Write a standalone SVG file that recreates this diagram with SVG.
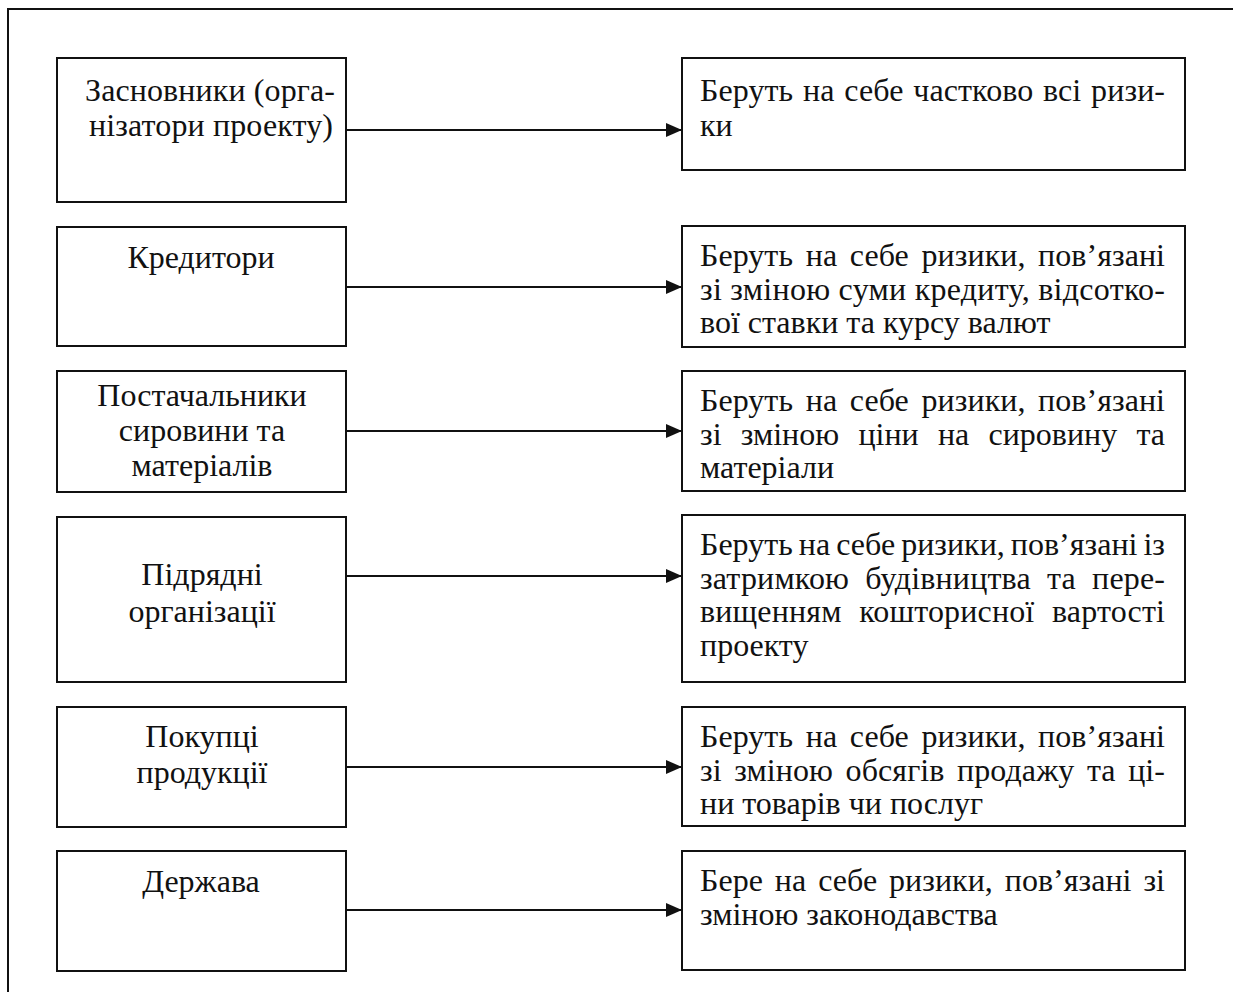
<svg xmlns="http://www.w3.org/2000/svg" width="1233" height="992" viewBox="0 0 1233 992">
<style>
.box{fill:#fff;stroke:#111;stroke-width:2}
.t{font-family:"Liberation Serif","Times New Roman",serif;font-size:32px;fill:#111}
.c{text-anchor:middle}
.ln{stroke:#111;stroke-width:2;fill:none}
</style>
<defs>
<marker id="ah" markerWidth="17" markerHeight="14" refX="16" refY="7" orient="auto" markerUnits="userSpaceOnUse">
<path d="M0,0 L16,7 L0,14 Z" fill="#111"/>
</marker>
</defs>
<rect width="1233" height="992" fill="#fff"/>
<path class="ln" d="M8,992 V9 H1233"/>

<g id="n1"><rect class="box" x="57" y="58" width="289" height="144"/>
<text class="t" x="85" y="101" textLength="250" lengthAdjust="spacing">Засновники (орга-</text>
<text class="t" x="89" y="136" textLength="244" lengthAdjust="spacing">нізатори проекту)</text></g>
<g id="n2"><rect class="box" x="57" y="227" width="289" height="119"/>
<text class="t c" x="201" y="268">Кредитори</text></g>
<g id="n3"><rect class="box" x="57" y="371" width="289" height="121"/>
<text class="t c" x="202" y="406">Постачальники</text>
<text class="t c" x="202" y="441">сировини та</text>
<text class="t c" x="202" y="476">матеріалів</text></g>
<g id="n4"><rect class="box" x="57" y="517" width="289" height="165"/>
<text class="t c" x="202" y="585">Підрядні</text>
<text class="t c" x="202" y="622">організації</text></g>
<g id="n5"><rect class="box" x="57" y="707" width="289" height="120"/>
<text class="t c" x="202" y="747">Покупці</text>
<text class="t c" x="202" y="783">продукції</text></g>
<g id="n6"><rect class="box" x="57" y="851" width="289" height="120"/>
<text class="t c" x="201" y="892">Держава</text></g>

<g id="r1"><rect class="box" x="682" y="58" width="503" height="112"/>
<text class="t" x="700" y="101" textLength="465" lengthAdjust="spacing" word-spacing="1.7">Беруть на себе частково всі ризи-</text>
<text class="t" x="700" y="136">ки</text></g>
<g id="r2"><rect class="box" x="682" y="226" width="503" height="121"/>
<text class="t" x="700" y="266" textLength="465" lengthAdjust="spacing" word-spacing="4.6">Беруть на себе ризики, пов’язані</text>
<text class="t" x="700" y="299.5" textLength="465" lengthAdjust="spacing">зі зміною суми кредиту, відсотко-</text>
<text class="t" x="700" y="333">вої ставки та курсу валют</text></g>
<g id="r3"><rect class="box" x="682" y="371" width="503" height="120"/>
<text class="t" x="700" y="411" textLength="465" lengthAdjust="spacing" word-spacing="4.6">Беруть на себе ризики, пов’язані</text>
<text class="t" x="700" y="444.5" textLength="465" lengthAdjust="spacing" word-spacing="11.3">зі зміною ціни на сировину та</text>
<text class="t" x="700" y="478">матеріали</text></g>
<g id="r4"><rect class="box" x="682" y="515" width="503" height="167"/>
<text class="t" x="700" y="555" textLength="465" lengthAdjust="spacing" word-spacing="-2">Беруть на себе ризики, пов’язані із</text>
<text class="t" x="700" y="588.5" textLength="465" lengthAdjust="spacing" word-spacing="8">затримкою будівництва та пере-</text>
<text class="t" x="700" y="622" textLength="465" lengthAdjust="spacing" word-spacing="9.5">вищенням кошторисної вартості</text>
<text class="t" x="700" y="655.5">проекту</text></g>
<g id="r5"><rect class="box" x="682" y="707" width="503" height="119"/>
<text class="t" x="700" y="747" textLength="465" lengthAdjust="spacing" word-spacing="4.6">Беруть на себе ризики, пов’язані</text>
<text class="t" x="700" y="780.5" textLength="465" lengthAdjust="spacing" word-spacing="4.4">зі зміною обсягів продажу та ці-</text>
<text class="t" x="700" y="814">ни товарів чи послуг</text></g>
<g id="r6"><rect class="box" x="682" y="851" width="503" height="119"/>
<text class="t" x="700" y="891" textLength="465" lengthAdjust="spacing" word-spacing="3.9">Бере на себе ризики, пов’язані зі</text>
<text class="t" x="700" y="924.5">зміною законодавства</text></g>

<g id="connectors">
<line class="ln" x1="346" y1="130" x2="682" y2="130" marker-end="url(#ah)"/>
<line class="ln" x1="346" y1="287" x2="682" y2="287" marker-end="url(#ah)"/>
<line class="ln" x1="346" y1="431" x2="682" y2="431" marker-end="url(#ah)"/>
<line class="ln" x1="346" y1="576" x2="682" y2="576" marker-end="url(#ah)"/>
<line class="ln" x1="346" y1="767" x2="682" y2="767" marker-end="url(#ah)"/>
<line class="ln" x1="346" y1="910" x2="682" y2="910" marker-end="url(#ah)"/>
</g>
</svg>
